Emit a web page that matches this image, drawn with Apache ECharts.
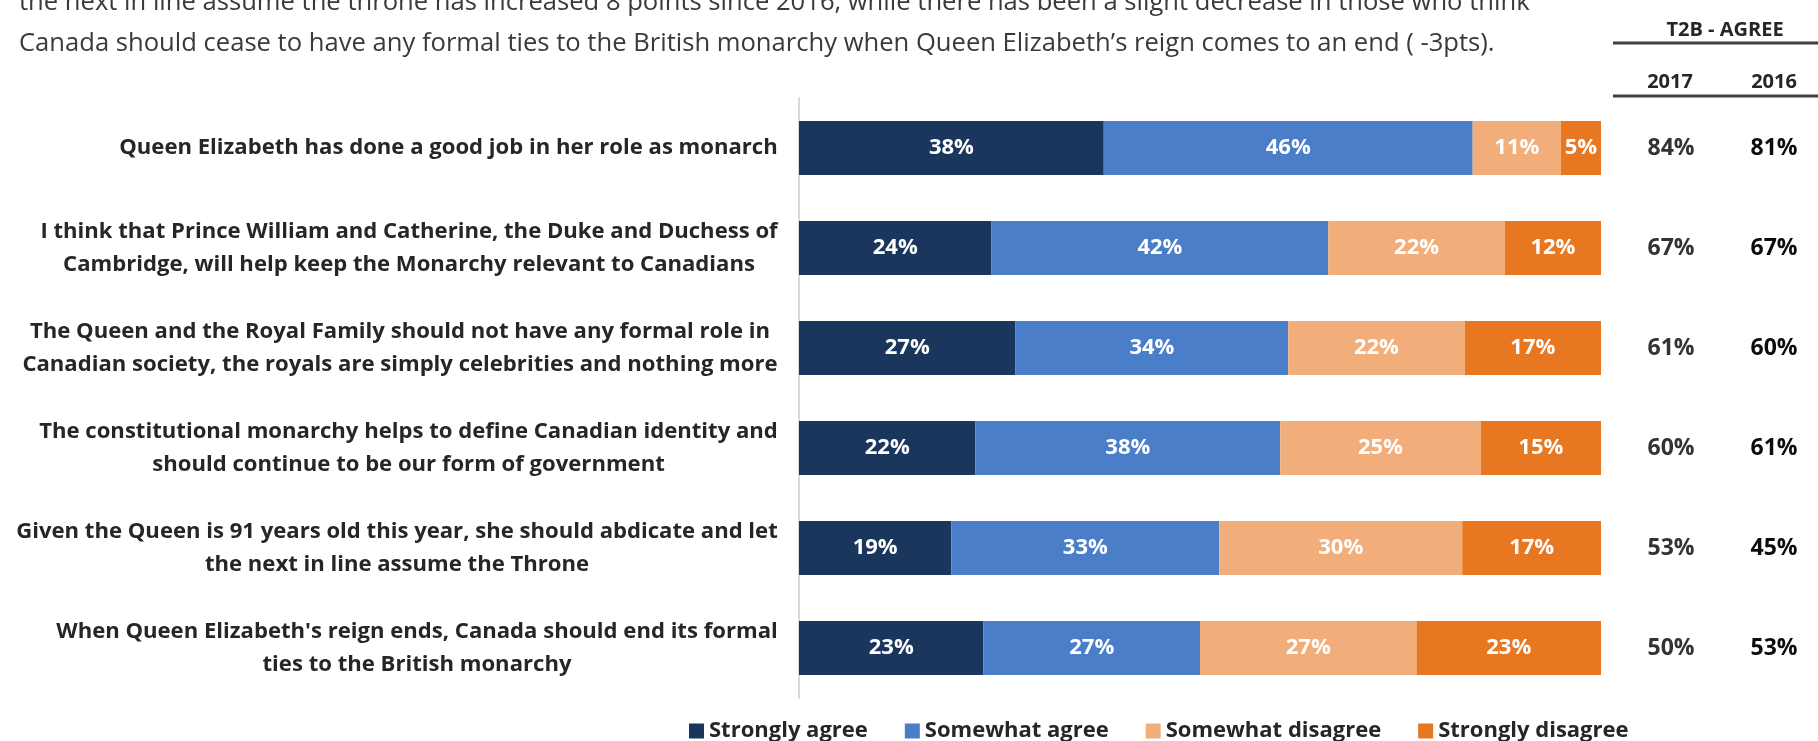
<!DOCTYPE html>
<html>
<head>
<meta charset="utf-8">
<script src="https://cdn.jsdelivr.net/npm/echarts@6/dist/echarts.min.js"></script>
<style>
  html, body { margin: 0; padding: 0; background: #fff; }
  #chart { width: 1818px; height: 741px; }
</style>
</head>
<body>
<div id="chart"></div>
<script>
const statements = [
  'Queen Elizabeth has done a good job in her role as monarch',
  'I think that Prince William and Catherine, the Duke and Duchess of\nCambridge, will help keep the Monarchy relevant to Canadians',
  'The Queen and the Royal Family should not have any formal role in\nCanadian society, the royals are simply celebrities and nothing more',
  'The constitutional monarchy helps to define Canadian identity and\nshould continue to be our form of government',
  'Given the Queen is 91 years old this year, she should abdicate and let\nthe next in line assume the Throne',
  "When Queen Elizabeth's reign ends, Canada should end its formal\nties to the British monarchy"
];
const seriesNames = ['Strongly agree', 'Somewhat agree', 'Somewhat disagree', 'Strongly disagree'];
const stronglyAgree = [38, 24, 27, 22, 19, 23];
const somewhatAgree = [46, 42, 34, 38, 33.4, 27];
const somewhatDisagree = [11, 22, 22, 25, 30.3, 27];
const stronglyDisagree = [5, 12, 17, 15, 17.3, 23];
const agree2017 = [84, 67, 61, 60, 53, 50];
const agree2016 = [81, 67, 60, 61, 45, 53];
const yearLabels = ['2017', '2016'];

const headline = [
  'the next in line assume the throne has increased 8 points since 2016, while there has been a slight decrease in those who think',
  'Canada should cease to have any formal ties to the British monarchy when Queen Elizabeth\u2019s reign comes to an end ( -3pts).'
];

const FONT = 'Open Sans';
const colors = ['#1b365d', '#4a7ec9', '#f1ae7b', '#e87722'];

// the source uses a narrower face, so fit sizes to the widths seen in the picture
const ctx = document.createElement('canvas').getContext('2d');
function fitSize (text, weight, target) {
  ctx.font = weight + ' 20px ' + FONT;
  return Math.round(20 * target / ctx.measureText(text).width * 10) / 10;
}
// longest line ("Given the Queen ...") starts near x=12 in the source
const labelSize = fitSize(statements[4].split('\n')[0], 'bold', 762);
const headSize = fitSize(headline[1], 'normal', 1474);

ctx.font = 'bold ' + labelSize + 'px ' + FONT;
const rich = {};
statements.forEach((s, i) => {
  const w = Math.max(...s.split('\n').map(l => ctx.measureText(l).width));
  rich['c' + i] = {
    width: Math.ceil(w), align: 'center', fontFamily: FONT, fontWeight: 'bold',
    fontSize: labelSize, lineHeight: 33, color: '#262626'
  };
});

const chart = echarts.init(document.getElementById('chart'));

function barSeries (name, data, color) {
  return {
    name: name,
    type: 'bar',
    stack: 'total',
    data: data,
    barWidth: 54,
    itemStyle: { color: color },
    label: {
      show: true,
      position: 'inside',
      color: '#fff',
      fontFamily: FONT,
      fontWeight: 'bold',
      fontSize: 22,
      formatter: p => Math.round(p.value) + '%'
    },
    emphasis: { disabled: true }
  };
}

const option = {
  animation: false,
  title: {
    text: headline.join('\n'),
    left: 14,
    top: -23,
    textStyle: { fontFamily: FONT, fontWeight: 'normal', fontSize: headSize, lineHeight: 41, color: '#3a3a3a' }
  },
  grid: { left: 799, right: 217, top: 98, bottom: 43, outerBoundsMode: 'none' },
  legend: {
    left: 684,
    top: 715,
    itemWidth: 15,
    itemHeight: 15,
    itemGap: 37,
    icon: 'rect',
    data: seriesNames,
    textStyle: { fontFamily: FONT, fontWeight: 'bold', fontSize: 22, color: '#262626' }
  },
  xAxis: { type: 'value', min: 0, max: 100, show: false },
  yAxis: [
    {
      type: 'category',
      data: statements,
      inverse: true,
      axisLine: { lineStyle: { color: '#d9d9d9', width: 2 } },
      axisTick: { show: false },
      axisLabel: {
        margin: 21,
        formatter: (v, i) => v.split('\n').map(l => '{c' + i + '|' + l + '}').join('\n'),
        rich: rich
      }
    },
    {
      type: 'category',
      data: statements,
      inverse: true,
      position: 'right',
      axisLine: { show: false },
      axisTick: { show: false },
      axisLabel: {
        margin: 30,
        align: 'left',
        formatter: (v, i) => '{a|' + agree2017[i] + '%}{b|' + agree2016[i] + '%}',
        rich: {
          a: { width: 80, align: 'center', fontFamily: FONT, fontWeight: 'bold', fontSize: 23, color: '#333' },
          b: { width: 126, align: 'center', fontFamily: FONT, fontWeight: 'bold', fontSize: 23, color: '#0d0d0d' }
        }
      }
    }
  ],
  graphic: [
    { type: 'text', x: 1725, y: 30, style: { text: 'T2B - AGREE', textAlign: 'center', textVerticalAlign: 'middle', font: 'bold 20px ' + FONT, fill: '#262626' } },
    { type: 'line', shape: { x1: 1613, y1: 43, x2: 1818, y2: 43 }, style: { stroke: '#404040', lineWidth: 3 } },
    { type: 'text', x: 1670, y: 82, style: { text: yearLabels[0], textAlign: 'center', textVerticalAlign: 'middle', font: 'bold 20px ' + FONT, fill: '#262626' } },
    { type: 'text', x: 1774, y: 82, style: { text: yearLabels[1], textAlign: 'center', textVerticalAlign: 'middle', font: 'bold 20px ' + FONT, fill: '#262626' } },
    { type: 'line', shape: { x1: 1613, y1: 96, x2: 1818, y2: 96 }, style: { stroke: '#404040', lineWidth: 3 } }
  ],
  series: [
    barSeries(seriesNames[0], stronglyAgree, colors[0]),
    barSeries(seriesNames[1], somewhatAgree, colors[1]),
    barSeries(seriesNames[2], somewhatDisagree, colors[2]),
    barSeries(seriesNames[3], stronglyDisagree, colors[3])
  ]
};

chart.setOption(option);
</script>
</body>
</html>
